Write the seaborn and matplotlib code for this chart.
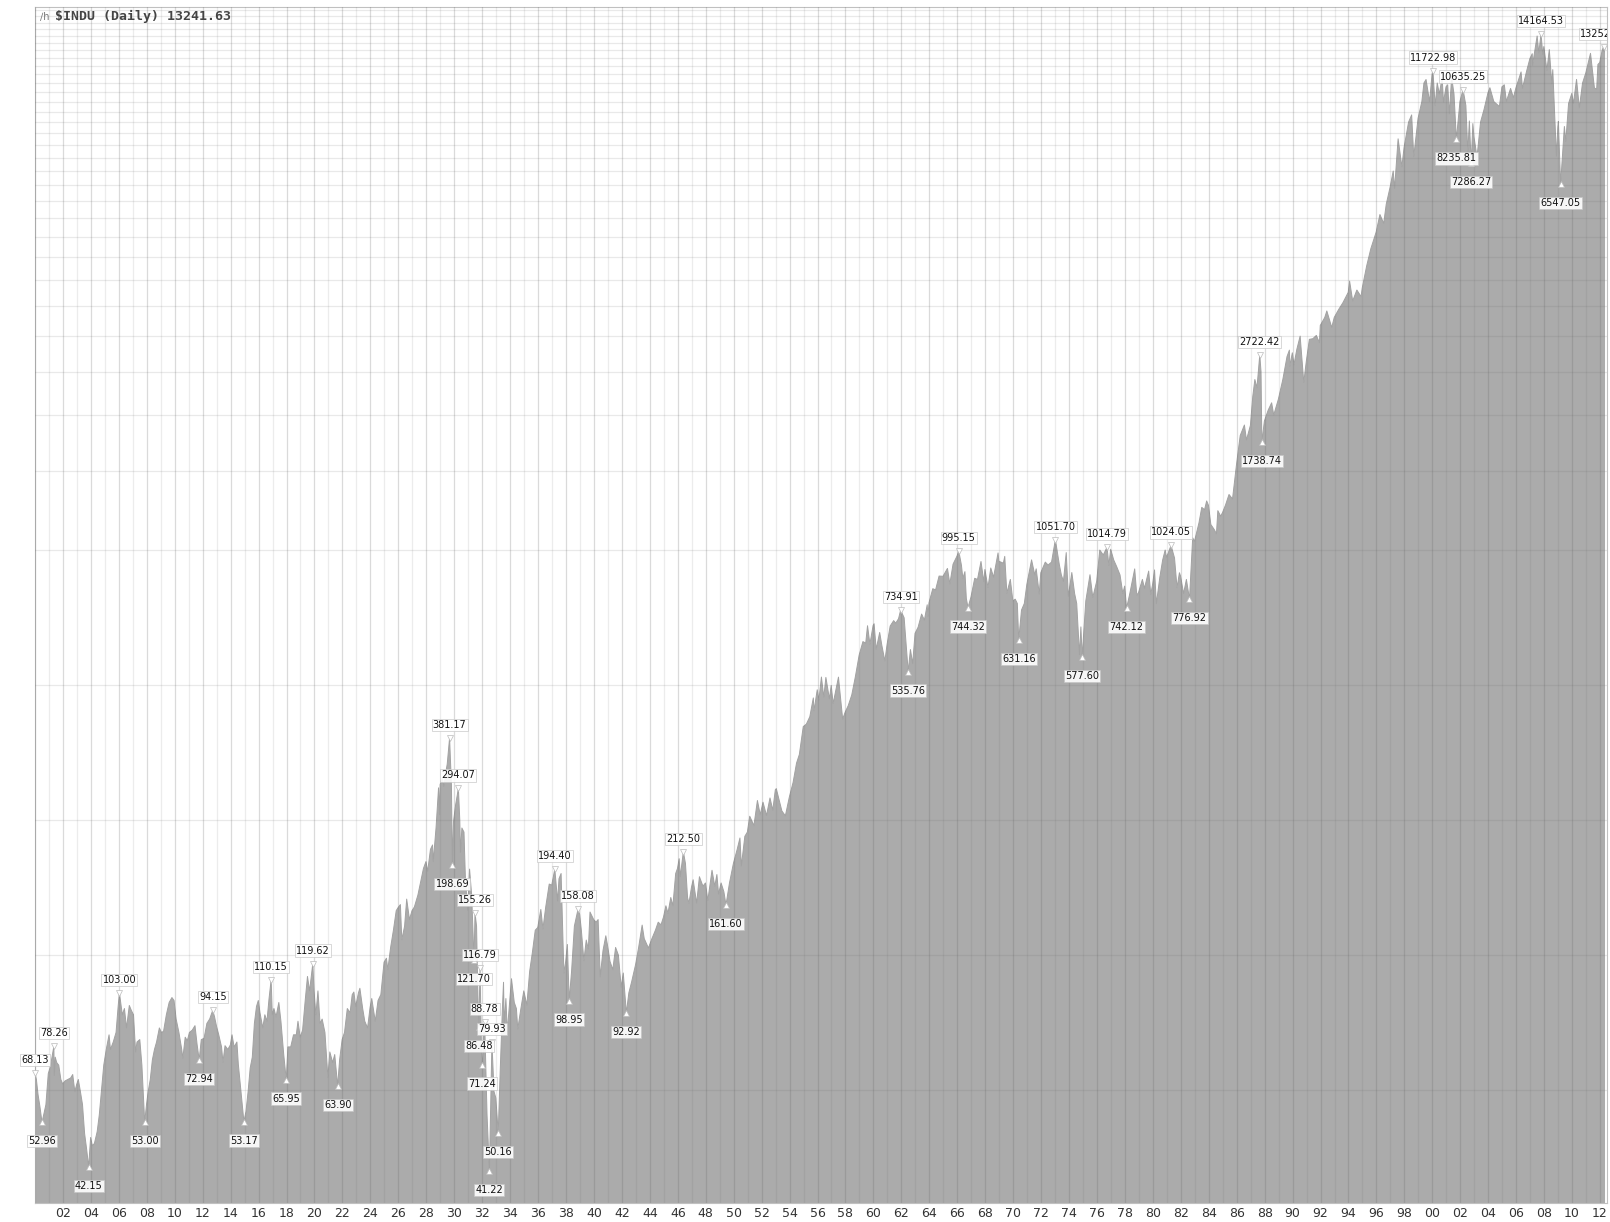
import numpy as np
import pandas as pd
import matplotlib
matplotlib.use("Agg")
import matplotlib.pyplot as plt
import seaborn as sns

# Dow Jones Industrial Average, 1900-2012
years = [
    1900.00, 1900.10, 1900.22, 1900.35, 1900.50, 1900.62, 1900.78, 1900.95,
    1901.10, 1901.25, 1901.35, 1901.38, 1901.45, 1901.55, 1901.70, 1901.85, 1901.98,
    1902.15, 1902.35, 1902.55, 1902.70, 1902.85, 1902.98,
    1903.10, 1903.25, 1903.40, 1903.55, 1903.70, 1903.84, 1903.98,
    1904.10, 1904.25, 1904.45, 1904.60, 1904.75, 1904.92,
    1905.10, 1905.30, 1905.40, 1905.60, 1905.80, 1905.95,
    1906.04, 1906.25, 1906.40, 1906.55, 1906.75, 1906.90,
    1907.05, 1907.20, 1907.30, 1907.50, 1907.65, 1907.85, 1907.98,
    1908.10, 1908.25, 1908.40, 1908.55, 1908.70, 1908.90,
    1909.05, 1909.20, 1909.40, 1909.60, 1909.80, 1909.95,
    1910.10, 1910.30, 1910.50, 1910.58, 1910.75, 1910.90,
    1911.05, 1911.25, 1911.45, 1911.60, 1911.75, 1911.90,
    1912.10, 1912.30, 1912.50, 1912.72, 1912.85, 1912.98,
    1913.15, 1913.35, 1913.45, 1913.60, 1913.80, 1913.98,
    1914.10, 1914.25, 1914.45, 1914.55, 1914.95,
    1915.10, 1915.25, 1915.40, 1915.55, 1915.70, 1915.85, 1915.98,
    1916.10, 1916.30, 1916.45, 1916.60, 1916.75, 1916.90, 1916.98,
    1917.10, 1917.25, 1917.45, 1917.60, 1917.80, 1917.98,
    1918.10, 1918.30, 1918.50, 1918.70, 1918.82, 1918.98,
    1919.15, 1919.35, 1919.50, 1919.65, 1919.88, 1919.97,
    1920.10, 1920.25, 1920.40, 1920.55, 1920.75, 1920.96,
    1921.10, 1921.30, 1921.45, 1921.66, 1921.80, 1921.98,
    1922.15, 1922.35, 1922.55, 1922.70, 1922.82, 1922.95,
    1923.15, 1923.25, 1923.45, 1923.60, 1923.80, 1923.98,
    1924.10, 1924.35, 1924.55, 1924.75, 1924.98,
    1925.15, 1925.25, 1925.45, 1925.65, 1925.85, 1925.98,
    1926.15, 1926.25, 1926.45, 1926.60, 1926.80, 1926.98,
    1927.15, 1927.40, 1927.60, 1927.80, 1927.98,
    1928.10, 1928.30, 1928.45, 1928.50, 1928.70, 1928.88, 1928.95, 1928.99,
    1929.15, 1929.25, 1929.40, 1929.50, 1929.67, 1929.80, 1929.87, 1929.95,
    1930.10, 1930.30, 1930.40, 1930.45, 1930.55, 1930.70, 1930.80, 1930.96,
    1931.10, 1931.25, 1931.42, 1931.49, 1931.60, 1931.70, 1931.76, 1931.85, 1931.96,
    1932.02, 1932.10, 1932.18, 1932.35, 1932.52, 1932.70, 1932.85, 1932.98,
    1933.15, 1933.30, 1933.45, 1933.53, 1933.58, 1933.70, 1933.80, 1933.98,
    1934.10, 1934.30, 1934.45, 1934.55, 1934.75, 1934.98,
    1935.20, 1935.40, 1935.60, 1935.80, 1935.98,
    1936.20, 1936.35, 1936.55, 1936.80, 1936.98,
    1937.20, 1937.40, 1937.50, 1937.65, 1937.85, 1937.98,
    1938.10, 1938.23, 1938.40, 1938.60, 1938.86, 1938.98,
    1939.10, 1939.28, 1939.45, 1939.60, 1939.72, 1939.98,
    1940.15, 1940.30, 1940.45, 1940.65, 1940.85, 1940.98,
    1941.15, 1941.35, 1941.55, 1941.75, 1941.95,
    1942.10, 1942.32, 1942.50, 1942.70, 1942.98,
    1943.20, 1943.45, 1943.60, 1943.90,
    1944.15, 1944.40, 1944.60, 1944.80, 1944.98,
    1945.15, 1945.30, 1945.50, 1945.65, 1945.85, 1945.98,
    1946.10, 1946.18, 1946.40, 1946.55, 1946.70, 1946.80, 1946.98,
    1947.10, 1947.35, 1947.55, 1947.80, 1947.98,
    1948.15, 1948.45, 1948.65, 1948.80, 1948.92,
    1949.10, 1949.30, 1949.45, 1949.70, 1949.98,
    1950.25, 1950.45, 1950.55, 1950.80, 1950.98,
    1951.15, 1951.45, 1951.70, 1951.90,
    1952.10, 1952.35, 1952.60, 1952.80, 1952.98,
    1953.05, 1953.45, 1953.70, 1953.98,
    1954.25, 1954.50, 1954.70, 1954.98,
    1955.20, 1955.45, 1955.70, 1955.75, 1955.98,
    1956.10, 1956.28, 1956.45, 1956.60, 1956.85, 1956.98,
    1957.12, 1957.50, 1957.80, 1957.98,
    1958.20, 1958.45, 1958.70, 1958.98,
    1959.25, 1959.45, 1959.58, 1959.75, 1959.98,
    1960.05, 1960.20, 1960.45, 1960.60, 1960.82, 1960.98,
    1961.20, 1961.45, 1961.60, 1961.80, 1961.95,
    1962.20, 1962.35, 1962.49, 1962.65, 1962.81, 1962.98,
    1963.20, 1963.45, 1963.65, 1963.85, 1963.90, 1963.98,
    1964.25, 1964.45, 1964.70, 1964.98,
    1965.30, 1965.47, 1965.70, 1965.98,
    1966.11, 1966.30, 1966.40, 1966.55, 1966.65, 1966.77, 1966.98,
    1967.25, 1967.45, 1967.70, 1967.90, 1967.98,
    1968.20, 1968.40, 1968.60, 1968.92, 1968.98,
    1969.30, 1969.40, 1969.55, 1969.80, 1969.98,
    1970.15, 1970.30, 1970.40, 1970.60, 1970.80, 1970.98,
    1971.32, 1971.55, 1971.65, 1971.87, 1971.98,
    1972.30, 1972.50, 1972.75, 1972.98,
    1973.03, 1973.30, 1973.45, 1973.60, 1973.80, 1973.95,
    1974.20, 1974.40, 1974.55, 1974.75, 1974.85, 1974.94,
    1975.20, 1975.50, 1975.70, 1975.98,
    1976.20, 1976.45, 1976.72, 1976.85, 1976.98,
    1977.20, 1977.40, 1977.65, 1977.85, 1977.98,
    1978.12, 1978.35, 1978.70, 1978.85, 1978.98,
    1979.25, 1979.40, 1979.70, 1979.85, 1979.98,
    1980.12, 1980.25, 1980.50, 1980.70, 1980.88, 1980.98,
    1981.30, 1981.55, 1981.73, 1981.90, 1981.98,
    1982.20, 1982.40, 1982.62, 1982.85, 1982.98,
    1983.30, 1983.50, 1983.70, 1983.85, 1983.98,
    1984.15, 1984.40, 1984.55, 1984.65, 1984.85, 1984.98,
    1985.20, 1985.45, 1985.70, 1985.98,
    1986.25, 1986.55, 1986.70, 1986.98,
    1987.15, 1987.30, 1987.45, 1987.65, 1987.74, 1987.80, 1987.98,
    1988.25, 1988.50, 1988.65, 1988.98,
    1989.30, 1989.60, 1989.77, 1989.80, 1989.98,
    1990.10, 1990.30, 1990.54, 1990.80, 1990.98,
    1991.20, 1991.45, 1991.70, 1991.92, 1991.98,
    1992.30, 1992.45, 1992.80, 1992.98,
    1993.30, 1993.60, 1993.98,
    1994.08, 1994.30, 1994.60, 1994.90, 1994.98,
    1995.30, 1995.60, 1995.98,
    1996.25, 1996.52, 1996.70, 1996.98,
    1997.20, 1997.30, 1997.55, 1997.82, 1997.98,
    1998.30, 1998.52, 1998.67, 1998.98,
    1999.25, 1999.40, 1999.55, 1999.80, 1999.98,
    2000.04, 2000.20, 2000.35, 2000.50, 2000.70, 2000.80, 2000.98,
    2001.10, 2001.22, 2001.38, 2001.55, 2001.72, 2001.98,
    2002.20, 2002.40, 2002.54, 2002.65, 2002.78, 2002.90, 2002.98,
    2003.20, 2003.45, 2003.70, 2003.98,
    2004.12, 2004.40, 2004.80, 2004.98,
    2005.15, 2005.30, 2005.60, 2005.80, 2005.98,
    2006.35, 2006.45, 2006.75, 2006.98,
    2007.15, 2007.17, 2007.50, 2007.62, 2007.78, 2007.90, 2007.98,
    2008.20, 2008.37, 2008.55, 2008.62, 2008.88, 2008.98,
    2009.02, 2009.18, 2009.45, 2009.55, 2009.75, 2009.98,
    2010.10, 2010.32, 2010.52, 2010.75, 2010.98,
    2011.32, 2011.60, 2011.76, 2011.85, 2011.98,
    2012.15, 2012.25, 2012.30, 2012.36,
]
closes = [
    68.13, 66.0, 61.0, 57.5, 52.96, 55.0, 58.0, 68.0,
    70.5, 75.0, 78.26, 67.4, 74.0, 72.0, 71.0, 66.0, 64.5,
    65.5, 66.0, 66.5, 67.7, 62.0, 64.3,
    66.0, 62.0, 58.0, 50.0, 46.0, 42.15, 49.0,
    47.0, 47.5, 50.5, 55.0, 62.0, 71.0,
    77.0, 83.0, 77.0, 80.0, 84.0, 96.0,
    103.00, 92.0, 95.0, 86.0, 96.5, 94.0,
    92.0, 76.0, 80.0, 81.0, 71.0, 53.00, 58.0,
    62.0, 66.0, 73.0, 77.0, 80.0, 86.0,
    84.0, 84.5, 92.0, 98.0, 100.5, 99.0,
    90.0, 84.0, 77.0, 73.6, 82.0, 80.5,
    84.0, 85.0, 87.0, 79.0, 72.94, 81.0,
    81.5, 88.0, 90.0, 94.15, 91.0, 87.0,
    83.0, 78.0, 72.1, 78.5, 77.0, 78.8,
    83.0, 78.0, 80.0, 71.4, 53.17,
    56.0, 62.0, 70.0, 74.0, 88.0, 96.0, 99.0,
    93.0, 86.0, 92.0, 89.0, 100.0, 110.15, 92.0,
    95.0, 91.0, 98.0, 89.0, 75.0, 65.95,
    78.0, 78.0, 83.0, 83.0, 89.0, 82.0,
    85.0, 100.0, 112.0, 104.0, 119.62, 104.0,
    92.0, 104.0, 88.0, 90.0, 84.0, 66.75,
    76.0, 72.0, 75.0, 63.90, 73.0, 81.0,
    84.0, 95.0, 93.0, 102.0, 103.4, 96.0,
    103.0, 105.4, 95.0, 89.0, 86.0, 95.5,
    100.0, 89.0, 99.0, 102.0, 120.5,
    123.0, 116.0, 130.0, 142.0, 157.0, 159.4,
    162.0, 135.2, 145.0, 166.6, 150.0, 157.0,
    160.0, 170.0, 182.0, 195.0, 202.0,
    192.0, 215.0, 220.0, 202.0, 240.0, 295.0, 257.0, 300.0,
    310.0, 297.0, 320.0, 333.0, 381.17, 300.0, 198.69, 248.0,
    270.0, 294.07, 250.0, 211.8, 240.0, 235.0, 186.0, 157.5,
    194.36, 170.0, 121.70, 155.26, 145.0, 100.0, 86.48, 116.79, 74.0,
    71.24, 82.0, 88.78, 55.0, 41.22, 79.93, 62.0, 60.0,
    50.16, 70.0, 95.0, 108.7, 88.0, 100.0, 84.4, 99.0,
    110.7, 98.0, 95.0, 85.5, 94.0, 104.0,
    96.7, 115.0, 127.0, 142.0, 144.0,
    158.0, 143.0, 160.0, 180.0, 179.0,
    194.40, 165.0, 185.0, 190.0, 114.0, 121.0,
    132.0, 98.95, 115.0, 145.0, 158.08, 154.0,
    142.0, 121.4, 135.0, 129.0, 155.9, 150.0,
    148.0, 150.0, 111.8, 128.0, 138.0, 131.0,
    121.0, 116.0, 130.0, 125.0, 106.0,
    114.0, 92.92, 103.0, 109.0, 119.0,
    130.0, 145.8, 136.0, 129.6,
    136.0, 142.0, 148.0, 146.0, 152.0,
    161.0, 155.0, 168.0, 161.0, 190.0, 195.0,
    205.0, 187.0, 212.50, 200.0, 168.0, 163.1, 177.0,
    184.0, 163.2, 186.9, 178.0, 181.0,
    165.4, 193.2, 178.0, 189.0, 171.0,
    181.0, 173.0, 161.60, 181.0, 200.0,
    215.0, 228.0, 197.5, 230.0, 235.0,
    255.0, 243.0, 276.4, 257.0,
    274.0, 256.0, 280.0, 263.0, 292.0,
    293.8, 262.0, 255.5, 281.0,
    303.0, 335.0, 350.0, 404.0,
    409.0, 425.0, 468.0, 438.0, 488.0,
    463.0, 521.0, 470.0, 520.0, 466.0, 499.0,
    454.8, 520.8, 419.8, 435.0,
    450.0, 475.0, 520.0, 583.0,
    625.0, 620.0, 678.0, 617.0, 679.0,
    685.0, 601.0, 655.0, 614.0, 566.0, 616.0,
    677.0, 696.0, 687.0, 703.0, 734.91,
    706.0, 611.0, 535.76, 600.0, 558.0, 652.0,
    673.0, 720.0, 698.0, 755.0, 711.0, 763.0,
    820.0, 815.0, 875.0, 874.0,
    910.0, 840.6, 930.0, 969.0,
    995.15, 925.0, 865.0, 895.0, 780.0, 744.32, 785.0,
    865.0, 860.0, 943.0, 850.0, 905.0,
    825.0, 912.0, 870.0, 985.2, 944.0,
    935.0, 968.0, 801.0, 860.0, 770.0,
    777.0, 760.0, 631.16, 735.0, 760.0, 838.0,
    950.8, 880.0, 908.0, 797.9, 890.0,
    940.0, 926.0, 940.0, 1036.0,
    1051.70, 930.0, 880.0, 851.9, 987.0, 788.3,
    891.0, 800.0, 760.0, 584.6, 674.0, 577.60,
    770.0, 881.0, 784.0, 852.0,
    1000.0, 975.0, 1014.79, 924.0, 1004.0,
    950.0, 920.0, 880.0, 800.0, 831.0,
    742.12, 800.0, 907.7, 792.0, 805.0,
    860.0, 822.0, 897.6, 796.7, 838.0,
    903.0, 759.1, 870.0, 950.0, 1000.0, 963.0,
    1024.05, 960.0, 824.0, 890.0, 875.0,
    800.0, 860.0, 776.92, 1065.0, 1046.0,
    1150.0, 1245.0, 1230.0, 1287.0, 1258.0,
    1140.0, 1110.0, 1086.6, 1224.0, 1190.0, 1211.0,
    1260.0, 1330.0, 1300.0, 1546.0,
    1800.0, 1900.0, 1760.0, 1896.0,
    2200.0, 2400.0, 2300.0, 2722.42, 2500.0, 1738.74, 1939.0,
    2050.0, 2130.0, 2000.0, 2168.0,
    2400.0, 2700.0, 2791.0, 2569.0, 2753.0,
    2590.0, 2800.0, 2999.0, 2365.0, 2633.0,
    2950.0, 2960.0, 3010.0, 2900.0, 3168.0,
    3300.0, 3413.0, 3136.0, 3301.0,
    3440.0, 3560.0, 3754.0,
    3978.0, 3593.0, 3800.0, 3674.0, 3834.0,
    4300.0, 4700.0, 5117.0,
    5600.0, 5350.0, 5900.0, 6448.0,
    7000.0, 6400.0, 8259.0, 7161.0, 7908.0,
    9000.0, 9338.0, 7539.0, 9181.0,
    10000.0, 11000.0, 11200.0, 10000.0, 11497.0,
    11722.98, 9796.0, 11000.0, 10400.0, 11310.0, 9975.0, 10787.0,
    10900.0, 9389.0, 11337.0, 10400.0, 8235.81, 10021.0,
    10635.25, 9800.0, 7702.0, 9053.0, 7286.27, 8931.0, 8341.0,
    7524.0, 9000.0, 9600.0, 10453.0,
    10737.0, 10000.0, 9749.0, 10783.0,
    10900.0, 10012.0, 10700.0, 10200.0, 10718.0,
    11642.0, 10706.0, 11700.0, 12463.0,
    12786.0, 12050.0, 14000.0, 12845.0, 14164.53, 12743.0, 13264.0,
    11740.0, 13058.0, 10962.0, 11782.0, 7552.0, 8776.0,
    9034.0, 6547.05, 8800.0, 8146.0, 9900.0, 10428.0,
    9908.0, 11205.0, 9686.0, 11000.0, 11577.0,
    12810.0, 10720.0, 10655.0, 12100.0, 12217.0,
    13000.0, 13252.76, 12900.0, 13241.63,
]

# labelled highs ("up") and lows ("down")
note_years = [
    1900.00, 1900.50, 1901.35, 1903.84, 1906.04, 1907.85, 1911.75, 1912.72,
    1914.95, 1916.90, 1917.98, 1919.88, 1921.66,
    1929.67, 1929.87, 1930.30, 1931.42, 1931.49, 1931.76, 1931.85, 1932.02,
    1932.18, 1932.52, 1932.70, 1933.15,
    1937.20, 1938.23, 1938.86, 1942.32, 1946.40, 1949.45,
    1961.95, 1962.49, 1966.11, 1966.77, 1970.40, 1973.03, 1974.94,
    1976.72, 1978.12, 1981.30, 1982.62, 1987.65, 1987.80,
    2000.04, 2001.72, 2002.20, 2002.78, 2007.78, 2009.18, 2012.25,
]
note_values = [
    68.13, 52.96, 78.26, 42.15, 103.00, 53.00, 72.94, 94.15,
    53.17, 110.15, 65.95, 119.62, 63.90,
    381.17, 198.69, 294.07, 121.70, 155.26, 86.48, 116.79, 71.24,
    88.78, 41.22, 79.93, 50.16,
    194.40, 98.95, 158.08, 92.92, 212.50, 161.60,
    734.91, 535.76, 995.15, 744.32, 631.16, 1051.70, 577.60,
    1014.79, 742.12, 1024.05, 776.92, 2722.42, 1738.74,
    11722.98, 8235.81, 10635.25, 7286.27, 14164.53, 6547.05, 13252.76,
]
note_sides = [
    "up", "down", "up", "down", "up", "down", "down", "up",
    "down", "up", "down", "up", "down",
    "up", "down", "up", "down", "up", "down", "up", "down",
    "up", "down", "up", "down",
    "up", "down", "up", "down", "up", "down",
    "up", "down", "up", "down", "down", "up", "down",
    "up", "down", "up", "down", "up", "down",
    "up", "down", "up", "down", "up", "down", "up",
]

# horizontal grid values of the log scale
grid_levels = [62.5, 125, 250, 500, 1000] + list(range(1500, 16001, 500))
tick_years = list(range(1902, 2013, 2))
tick_labels = [f"{y % 100:02d}" for y in tick_years]
title_text = "\\$INDU (Daily) 13241.63"

sns.set_style("white")
plt.rcParams["font.family"] = ["DejaVu Sans"]

fig = plt.figure(figsize=(16.10, 12.22), dpi=100)
ax = fig.add_axes([35 / 1610, 1 - 1203 / 1222, 1572 / 1610, 1196 / 1222])

df = pd.DataFrame({"year": years, "close": closes})
fill_col = "#ababab"
ax.fill_between(df["year"], df["close"], 1, color=fill_col, lw=0, zorder=2)
sns.lineplot(data=df, x="year", y="close", ax=ax, color="#a2a2a2", lw=0.7,
             zorder=2, estimator=None, sort=False)

ax.set_yscale("log")
ax.set_ylim(35, 16250)
ax.set_xlim(1900, 2012.5)

# grid drawn over the fill so it shows through the grey
for lv in grid_levels:
    ax.axhline(lv, color="#666666", alpha=0.14, lw=0.9, zorder=3)
for y in range(1900, 2013):
    a = 0.24 if y % 2 == 0 else 0.12
    ax.axvline(y, color="#666666", alpha=a, lw=0.9, zorder=3)

for yr, v, side in zip(note_years, note_values, note_sides):
    dy = 13 if side == "up" else -19
    mk = "v" if side == "up" else "^"
    ax.plot([yr], [v], marker=mk, ms=4, mfc="white", mec="#bbbbbb", mew=0.5,
            zorder=4, clip_on=False)
    ax.annotate(f"{v:.2f}", xy=(yr, v), xytext=(0, dy), textcoords="offset pixels",
                ha="center", va="center", fontsize=7, color="#111111",
                bbox=dict(boxstyle="square,pad=0.12", fc="white", ec="#c4c4c4",
                          lw=0.5, alpha=0.9),
                zorder=5, annotation_clip=False, clip_on=(yr > 2010))

ax.set_xticks(tick_years)
ax.set_xticklabels(tick_labels, fontsize=9, color="#333333")
ax.tick_params(axis="x", length=0, pad=3)
ax.set_yticks([])
ax.minorticks_off()
ax.set_yticks([], minor=True)
ax.set_xlabel("")
ax.set_ylabel("")
for sp in ax.spines.values():
    sp.set_color("#c0c0c0")
    sp.set_linewidth(0.8)

ax.text(0.003, 0.9925, "\u2215h", transform=ax.transAxes, fontsize=7,
        color="#777777", va="center", ha="left", zorder=6)
ax.text(0.0125, 0.9925, title_text, transform=ax.transAxes, fontsize=9.5,
        family="DejaVu Sans Mono", weight="bold", color="#444444",
        va="center", ha="left", zorder=6)

fig.savefig("out.png", dpi=100)
